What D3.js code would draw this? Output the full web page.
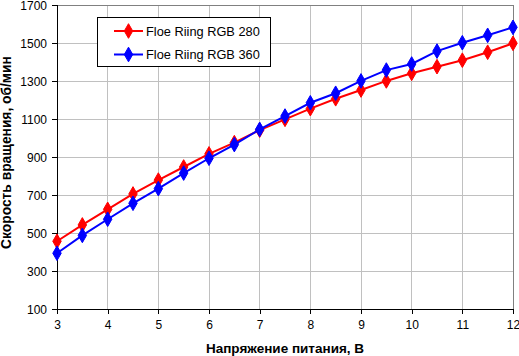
<!DOCTYPE html>
<html><head><meta charset="utf-8">
<script src="https://cdn.jsdelivr.net/npm/d3@7"></script>
<style>body{margin:0;background:#fff}svg{display:block}text{font-family:"Liberation Sans",Arial,sans-serif}</style>
</head><body><svg id="c" width="519" height="356"></svg>
<script>
const voltages = [3,3.5,4,4.5,5,5.5,6,6.5,7,7.5,8,8.5,9,9.5,10,10.5,11,11.5,12];
const rgb280 = [458,544,626,707,780,849,918,977,1043,1100,1156,1208,1254,1302,1342,1377,1411,1453,1500];
const rgb360 = [395,489,574,658,735,817,895,967,1047,1117,1187,1237,1302,1359,1391,1459,1503,1542,1584];
const seriesNames = ["Floe Riing RGB 280","Floe Riing RGB 360"];
const seriesColors = ["#ff0000","#0000ff"];
const xTicks = [3,4,5,6,7,8,9,10,11,12];
const yTicks = [100,300,500,700,900,1100,1300,1500,1700];
const xTitle = "Напряжение питания, В";
const yTitle = "Скорость вращения, об/мин";

const svg = d3.select("#c");
const L=57,R=513,T=5.3,B=309.3;
const x = d3.scaleLinear().domain([3,12]).range([L,R]);
const y = d3.scaleLinear().domain([100,1700]).range([B,T]);

// grid
svg.append("g").selectAll("line.v").data(xTicks.slice(1)).join("line")
  .attr("x1",d=>x(d)).attr("x2",d=>x(d)).attr("y1",T).attr("y2",B)
  .attr("stroke","#c0c0c0").attr("stroke-width",1).attr("shape-rendering","crispEdges");
svg.append("g").selectAll("line.h").data(yTicks.slice(1)).join("line")
  .attr("x1",L).attr("x2",R).attr("y1",d=>y(d)).attr("y2",d=>y(d))
  .attr("stroke","#c0c0c0").attr("stroke-width",1).attr("shape-rendering","crispEdges");
// border top/right grey
svg.append("path").attr("d",`M${L},${y(1700)}H${R}V${B}`).attr("fill","none")
  .attr("stroke","#808080").attr("stroke-width",1).attr("shape-rendering","crispEdges");

// axes
const xa = svg.append("g").attr("transform",`translate(0,${B})`)
  .call(d3.axisBottom(x).tickValues(xTicks).tickSize(5).tickPadding(6).tickFormat(d3.format("d")));
const ya = svg.append("g").attr("transform",`translate(${L},0)`)
  .call(d3.axisLeft(y).tickValues(yTicks).tickSize(5).tickPadding(5).tickFormat(d3.format("d")));
[xa,ya].forEach(a=>{
  a.selectAll("path,line").attr("stroke","#000").attr("shape-rendering","crispEdges");
  a.selectAll("text").attr("fill","#000").style("font-size","12px").style("font-family","Liberation Sans, Arial, sans-serif");
});

// series
const data = [rgb280, rgb360];
const line = d3.line().x((d,i)=>x(voltages[i])).y(d=>y(d));
const diamond = d3.symbol().type(d3.symbolDiamond).size(62);
data.forEach((vals,k)=>{
  svg.append("path").datum(vals).attr("d",line).attr("fill","none")
    .attr("stroke",seriesColors[k]).attr("stroke-width",2);
  svg.append("g").selectAll("path").data(vals).join("path")
    .attr("d",diamond).attr("transform",(d,i)=>`translate(${x(voltages[i])},${y(d)})`)
    .attr("fill",seriesColors[k]).attr("stroke",seriesColors[k]).attr("stroke-width",1);
});

// titles
svg.append("text").attr("x",(L+R)/2).attr("y",353).attr("text-anchor","middle")
  .style("font-size","13.5px").style("font-weight","bold").text(xTitle);
svg.append("text").attr("transform",`translate(10.5,152.5) rotate(-90)`).attr("text-anchor","middle")
  .style("font-size","13.8px").style("font-weight","bold").text(yTitle);

// legend
const lg = svg.append("g");
lg.append("rect").attr("x",97.5).attr("y",17.5).attr("width",173).attr("height",49)
  .attr("fill","#fff").attr("stroke","#000").attr("stroke-width",1);
seriesNames.forEach((n,k)=>{
  const cy = [31,54.5][k];
  lg.append("line").attr("x1",114).attr("x2",143).attr("y1",cy).attr("y2",cy)
    .attr("stroke",seriesColors[k]).attr("stroke-width",2);
  lg.append("path").attr("d",diamond).attr("transform",`translate(128.5,${cy})`)
    .attr("fill",seriesColors[k]).attr("stroke",seriesColors[k]);
  lg.append("text").attr("x",146).attr("y",cy).attr("dy","0.36em")
    .style("font-size","12.8px").text(n);
});
</script></body></html>
